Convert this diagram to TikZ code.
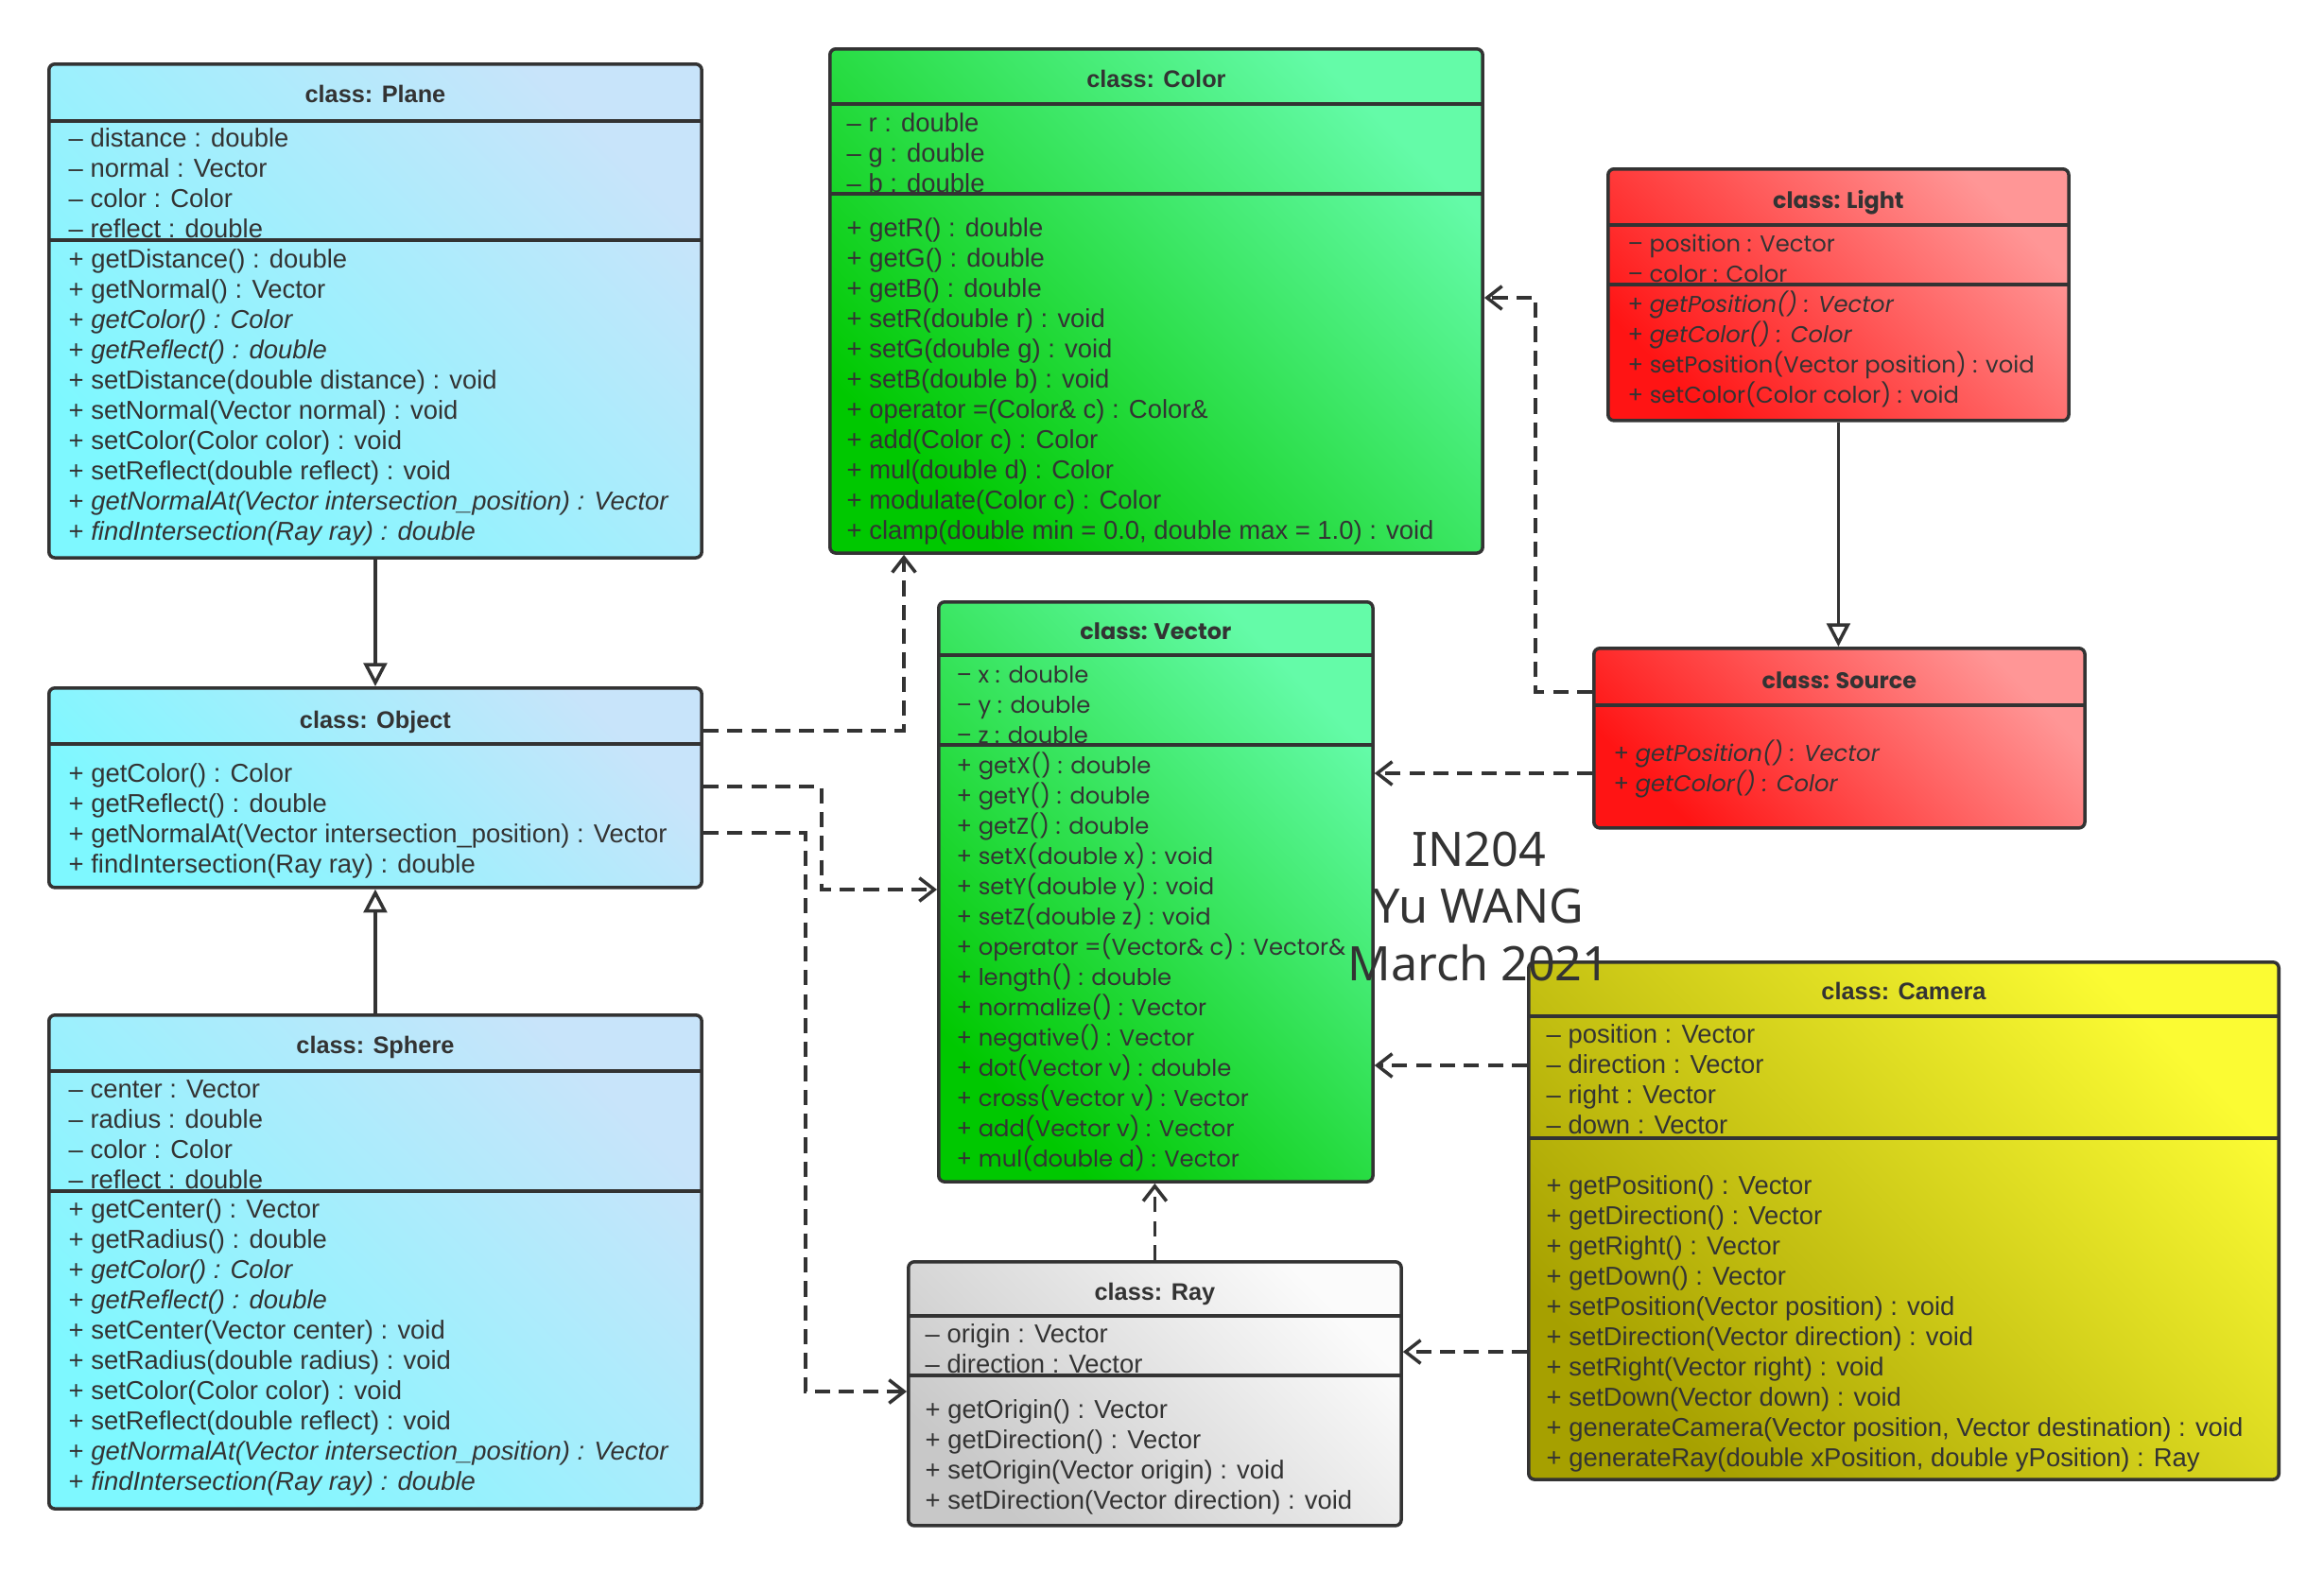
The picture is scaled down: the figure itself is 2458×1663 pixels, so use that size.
\documentclass[tikz,border=0pt]{standalone}
\usepackage{fontspec}
\setmainfont{Liberation Sans}
\newfontfamily\geofont{Poppins}
\newfontfamily\stampfont{Noto Sans}
\usetikzlibrary{arrows.meta,calc}

\definecolor{ink}{HTML}{333333}
\definecolor{blueA}{HTML}{7EF8FF}
\definecolor{blueB}{HTML}{C8E4FA}
\definecolor{greenA}{HTML}{00C800}
\definecolor{greenB}{HTML}{64FBA8}
\definecolor{redA}{HTML}{FF1414}
\definecolor{redB}{HTML}{FF9696}
\definecolor{olivA}{HTML}{A6A000}
\definecolor{olivB}{HTML}{FBFB33}
\definecolor{grayA}{HTML}{C8C8C8}
\definecolor{grayB}{HTML}{FBFBFB}

\begin{document}
\begin{tikzpicture}[x=0.01cm,y=-0.01cm,
		box/.style={draw=ink,line width=1pt,rounded corners=1.8pt,inner sep=0pt,anchor=north west},
		blues/.style={bottom color=blueA,top color=blueB,shading angle=-45},
		greens/.style={bottom color=greenA,top color=greenB,shading angle=-45},
		reds/.style={bottom color=redA,top color=redB,shading angle=-45},
		olives/.style={bottom color=olivA,top color=olivB,shading angle=-45},
		grays/.style={bottom color=grayA,top color=grayB,shading angle=-45},
		sep/.style={draw=ink,line width=1pt},
		cls/.style={text=ink,anchor=base,inner sep=0pt,font=\bfseries\fontsize{7.2}{9}\selectfont},
		gcls/.style={cls,font=\geofont\bfseries\fontsize{6.8}{8}\selectfont},
		member/.style={text=ink,anchor=base west,inner sep=0pt,font=\fontsize{7.8}{9}\selectfont},
		gmember/.style={member,font=\geofont\fontsize{6.9}{8}\selectfont},
		dep/.style={draw=ink,line width=1pt,dash pattern=on 4.6pt off 2.6pt,
			-{Straight Barb[length=4.5pt,width=7pt]}},
		inh/.style={draw=ink,line width=1pt,-{Triangle[open,length=7pt,width=7pt,fill=white]}}]
	\useasboundingbox[fill=white] (0,0) rectangle (2458,1663);
	
	% class boxes
	\node[box,blues,minimum width=6.9cm,minimum height=5.22cm] (plane) at (50,66) {};
	\node[box,blues,minimum width=6.9cm,minimum height=2.11cm] (object) at (50,726) {};
	\node[box,blues,minimum width=6.9cm,minimum height=5.22cm] (sphere) at (50,1072) {};
	\node[box,greens,minimum width=6.9cm,minimum height=5.33cm] (color) at (876,50) {};
	\node[box,greens,minimum width=4.59cm,minimum height=6.13cm] (vector) at (991,635) {};
	\node[box,reds,minimum width=4.87cm,minimum height=2.66cm] (light) at (1699,177) {};
	\node[box,reds,minimum width=5.19cm,minimum height=1.90cm] (source) at (1684,684) {};
	\node[box,olives,minimum width=7.93cm,minimum height=5.47cm] (camera) at (1615,1016) {};
	\node[box,grays,minimum width=5.21cm,minimum height=2.79cm] (ray) at (959,1333) {};
	
	% Plane
	\draw[sep] ($(plane.north west)+(0,62)$) -- ($(plane.north east)+(0,62)$);
	\draw[sep] ($(plane.north west)+(0,188)$) -- ($(plane.north east)+(0,188)$);
	\node[cls] at ($(plane.north)+(0,42)$) {class: Plane};
	\foreach \t [count=\i from 0] in {– distance : double,– normal : Vector,– color : Color,– reflect : double}
	{\node[member] at ($(plane.north west)+(22,{89+32*\i})$) {\t};}
	\foreach \t [count=\i from 0] in {+ getDistance() : double,+ getNormal() : Vector,
		+ \textit{getColor() : Color},+ \textit{getReflect() : double},
		+ setDistance(double distance) : void,+ setNormal(Vector normal) : void,
		+ setColor(Color color) : void,+ setReflect(double reflect) : void,
		+ \textit{getNormalAt(Vector intersection\_position) : Vector},
		+ \textit{findIntersection(Ray ray) : double}}
	{\node[member] at ($(plane.north west)+(22,{217+32*\i})$) {\t};}
	
	% Object
	\draw[sep] ($(object.north west)+(0,61)$) -- ($(object.north east)+(0,61)$);
	\node[cls] at ($(object.north)+(0,44)$) {class: Object};
	\foreach \t [count=\i from 0] in {+ getColor() : Color,+ getReflect() : double,
		+ getNormalAt(Vector intersection\_position) : Vector,+ findIntersection(Ray ray) : double}
	{\node[member] at ($(object.north west)+(22,{101+32*\i})$) {\t};}
	
	% Sphere
	\draw[sep] ($(sphere.north west)+(0,61)$) -- ($(sphere.north east)+(0,61)$);
	\draw[sep] ($(sphere.north west)+(0,188)$) -- ($(sphere.north east)+(0,188)$);
	\node[cls] at ($(sphere.north)+(0,42)$) {class: Sphere};
	\foreach \t [count=\i from 0] in {– center : Vector,– radius : double,– color : Color,– reflect : double}
	{\node[member] at ($(sphere.north west)+(22,{89+32*\i})$) {\t};}
	\foreach \t [count=\i from 0] in {+ getCenter() : Vector,+ getRadius() : double,
		+ \textit{getColor() : Color},+ \textit{getReflect() : double},
		+ setCenter(Vector center) : void,+ setRadius(double radius) : void,
		+ setColor(Color color) : void,+ setReflect(double reflect) : void,
		+ \textit{getNormalAt(Vector intersection\_position) : Vector},
		+ \textit{findIntersection(Ray ray) : double}}
	{\node[member] at ($(sphere.north west)+(22,{216+32*\i})$) {\t};}
	
	% Color
	\draw[sep] ($(color.north west)+(0,60)$) -- ($(color.north east)+(0,60)$);
	\draw[sep] ($(color.north west)+(0,155)$) -- ($(color.north east)+(0,155)$);
	\node[cls] at ($(color.north)+(0,42)$) {class: Color};
	\foreach \t [count=\i from 0] in {– r : double,– g : double,– b : double}
	{\node[member] at ($(color.north west)+(19,{89+32*\i})$) {\t};}
	\foreach \t [count=\i from 0] in {+ getR() : double,+ getG() : double,+ getB() : double,
		+ setR(double r) : void,+ setG(double g) : void,+ setB(double b) : void,
		+ operator =(Color\& c) : Color\&,+ add(Color c) : Color,+ mul(double d) : Color,
		+ modulate(Color c) : Color,{+ clamp(double min = 0.0, double max = 1.0) : void}}
	{\node[member] at ($(color.north west)+(19,{200+32*\i})$) {\t};}
	
	% Vector
	\draw[sep] ($(vector.north west)+(0,58)$) -- ($(vector.north east)+(0,58)$);
	\draw[sep] ($(vector.north west)+(0,153)$) -- ($(vector.north east)+(0,153)$);
	\node[gcls] at ($(vector.north)+(0,41)$) {class: Vector};
	\foreach \t [count=\i from 0] in {– x : double,– y : double,– z : double}
	{\node[gmember] at ($(vector.north west)+(20,{87+32*\i})$) {\t};}
	\foreach \t [count=\i from 0] in {+ getX() : double,+ getY() : double,+ getZ() : double,
		+ setX(double x) : void,+ setY(double y) : void,+ setZ(double z) : void,
		+ operator =(Vector\& c) : Vector\&,+ length() : double,+ normalize() : Vector,
		+ negative() : Vector,+ dot(Vector v) : double,+ cross(Vector v) : Vector,
		+ add(Vector v) : Vector,+ mul(double d) : Vector}
	{\node[gmember] at ($(vector.north west)+(20,{183+32*\i})$) {\t};}
	
	% Light
	\draw[sep] ($(light.north west)+(0,61)$) -- ($(light.north east)+(0,61)$);
	\draw[sep] ($(light.north west)+(0,124)$) -- ($(light.north east)+(0,124)$);
	\node[gcls] at ($(light.north)+(0,43)$) {class: Light};
	\foreach \t [count=\i from 0] in {– position : Vector,– color : Color}
	{\node[gmember] at ($(light.north west)+(22,{89+32*\i})$) {\t};}
	\foreach \t [count=\i from 0] in {+ \textit{getPosition() : Vector},+ \textit{getColor() : Color},
		+ setPosition(Vector position) : void,+ setColor(Color color) : void}
	{\node[gmember] at ($(light.north west)+(22,{153+32*\i})$) {\t};}
	
	% Source
	\draw[sep] ($(source.north west)+(0,62)$) -- ($(source.north east)+(0,62)$);
	\node[gcls] at ($(source.north)+(0,44)$) {class: Source};
	\foreach \t [count=\i from 0] in {+ \textit{getPosition() : Vector},+ \textit{getColor() : Color}}
	{\node[gmember] at ($(source.north west)+(22,{121+32*\i})$) {\t};}
	
	% Camera
	\draw[sep] ($(camera.north west)+(0,59)$) -- ($(camera.north east)+(0,59)$);
	\draw[sep] ($(camera.north west)+(0,188)$) -- ($(camera.north east)+(0,188)$);
	\node[cls] at ($(camera.north)+(0,41)$) {class: Camera};
	\foreach \t [count=\i from 0] in {– position : Vector,– direction : Vector,– right : Vector,– down : Vector}
	{\node[member] at ($(camera.north west)+(20,{87+32*\i})$) {\t};}
	\foreach \t [count=\i from 0] in {+ getPosition() : Vector,+ getDirection() : Vector,
		+ getRight() : Vector,+ getDown() : Vector,+ setPosition(Vector position) : void,
		+ setDirection(Vector direction) : void,+ setRight(Vector right) : void,
		+ setDown(Vector down) : void,{+ generateCamera(Vector position, Vector destination) : void},
		{+ generateRay(double xPosition, double yPosition) : Ray}}
	{\node[member] at ($(camera.north west)+(20,{247+32*\i})$) {\t};}
	
	% Ray
	\draw[sep] ($(ray.north west)+(0,59)$) -- ($(ray.north east)+(0,59)$);
	\draw[sep] ($(ray.north west)+(0,122)$) -- ($(ray.north east)+(0,122)$);
	\node[cls] at ($(ray.north)+(0,42)$) {class: Ray};
	\foreach \t [count=\i from 0] in {– origin : Vector,– direction : Vector}
	{\node[member] at ($(ray.north west)+(19,{87+32*\i})$) {\t};}
	\foreach \t [count=\i from 0] in {+ getOrigin() : Vector,+ getDirection() : Vector,
		+ setOrigin(Vector origin) : void,+ setDirection(Vector direction) : void}
	{\node[member] at ($(ray.north west)+(19,{167+32*\i})$) {\t};}
	
	% inheritance
	\draw[inh] (plane.south) -- (object.north);
	\draw[inh] (sphere.north) -- (object.south);
	\draw[inh] (light.south) -- (light.south |- source.north);
	
	% dependencies
	\path ($(source.north west)+(0,134)$) coordinate (sv)
	($(camera.north west)+(0,111)$) coordinate (cv)
	($(camera.north west)+(0,414)$) coordinate (cr);
	\draw[dep] ($(object.north east)+(0,47)$) -| ($(color.south west)+(80,0)$);
	\draw[dep] ($(object.north east)+(0,106)$) -- ++(125,0) |- ($(vector.north west)+(0,306)$);
	\draw[dep] ($(object.north east)+(0,155)$) -- ++(108,0) |- ($(ray.north west)+(0,139)$);
	\draw[dep] ($(source.north west)+(0,48)$) -- ++(-60,0) |- ($(color.north east)+(0,265)$);
	\draw[dep] (sv) -- (sv -| vector.east);
	\draw[dep] (cv) -- (cv -| vector.east);
	\draw[dep] (cr) -- (cr -| ray.east);
	\draw[dep] (ray.north) -- (ray.north |- vector.south);
	
	\node[text=ink,align=center,font=\stampfont\fontsize{14.3}{17.3}\selectfont] (stamp) at (1564,959)
	{IN204\\Yu WANG\\March 2021};
\end{tikzpicture}
\end{document}
